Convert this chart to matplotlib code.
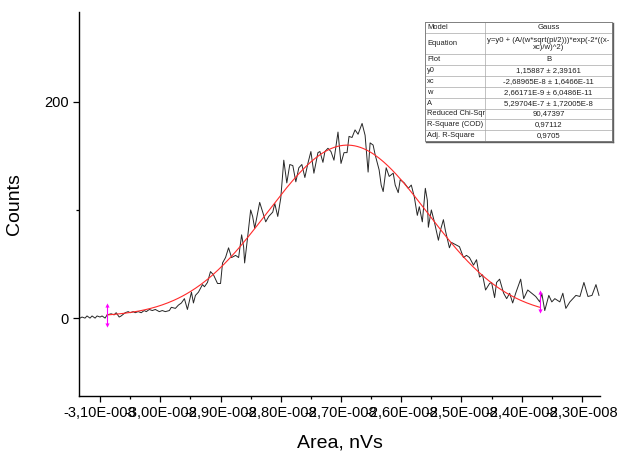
import numpy as np
import matplotlib
matplotlib.use('Agg')
import matplotlib.pyplot as plt
from matplotlib.ticker import FuncFormatter, MultipleLocator

plt.rcParams['font.family'] = ['Liberation Sans', 'DejaVu Sans']

# measured spectrum (x in units of 1e-9 nVs, counts)
area_e9 = [
    -31.333, -31.300, -31.250, -31.217, -31.167, -31.133, -31.083, -31.050, -31.000, -30.967,
    -30.917, -30.883, -30.817, -30.767, -30.733, -30.683, -30.650, -30.583, -30.533, -30.500,
    -30.450, -30.417, -30.367, -30.317, -30.267, -30.233, -30.183, -30.133, -30.083, -30.017,
    -29.967, -29.917, -29.850, -29.817, -29.750, -29.700, -29.650, -29.600, -29.550, -29.483,
    -29.450, -29.417, -29.367, -29.300, -29.267, -29.217, -29.167, -29.117, -29.050, -29.000,
    -28.967, -28.917, -28.867, -28.817, -28.750, -28.700, -28.650, -28.617, -28.600, -28.550,
    -28.500, -28.467, -28.433, -28.350, -28.300, -28.250, -28.200, -28.133, -28.100, -28.050,
    -28.000, -27.950, -27.900, -27.850, -27.800, -27.750, -27.700, -27.650, -27.600, -27.550,
    -27.500, -27.450, -27.383, -27.350, -27.300, -27.267, -27.217, -27.167, -27.117, -27.050,
    -27.000, -26.950, -26.900, -26.867, -26.817, -26.767, -26.717, -26.650, -26.600, -26.550,
    -26.517, -26.467, -26.433, -26.367, -26.333, -26.300, -26.250, -26.200, -26.133, -26.100,
    -26.050, -26.017, -25.950, -25.883, -25.833, -25.783, -25.733, -25.700, -25.650, -25.617,
    -25.600, -25.567, -25.550, -25.500, -25.450, -25.383, -25.350, -25.300, -25.267, -25.200,
    -25.167, -25.100, -25.033, -24.967, -24.917, -24.867, -24.800, -24.750, -24.700, -24.650,
    -24.600, -24.533, -24.500, -24.450, -24.417, -24.367, -24.300, -24.250, -24.200, -24.150,
    -24.100, -24.017, -23.967, -23.900, -23.833, -23.767, -23.700, -23.667, -23.617, -23.550,
    -23.500, -23.450, -23.367, -23.317, -23.267, -23.200, -23.150, -23.100, -23.033, -22.967,
    -22.900, -22.833, -22.767, -22.717,
]
counts = [
    0, 1, 0, 2, 0, 2, 0, 2, 1, 2,
    0, 3, 4, 3, 5, 1, 2, 5, 6, 5,
    6, 5, 6, 5, 7, 6, 8, 7, 8, 6,
    7, 6, 7, 10, 9, 12, 14, 18, 8, 24,
    14, 21, 24, 31, 29, 33, 43, 40, 32, 32,
    51, 56, 65, 56, 58, 56, 77, 66, 51, 75,
    100, 94, 83, 107, 98, 89, 94, 98, 106, 94,
    111, 146, 125, 142, 141, 126, 139, 142, 130, 143,
    154, 134, 153, 154, 144, 154, 157, 154, 146, 172,
    143, 153, 153, 168, 167, 174, 170, 180, 169, 135,
    162, 160, 151, 137, 123, 117, 139, 131, 134, 123,
    116, 128, 125, 120, 123, 112, 95, 103, 89, 109,
    120, 109, 84, 100, 89, 72, 81, 91, 81, 65,
    70, 68, 66, 56, 58, 56, 49, 54, 38, 40,
    26, 32, 33, 19, 33, 36, 23, 18, 23, 14,
    23, 36, 18, 26, 23, 20, 15, 23, 7, 21,
    15, 18, 15, 23, 9, 15, 18, 21, 20, 33,
    20, 21, 31, 21,
]

# Gauss fit parameters (from the report table)
y0 = 1.15887
xc = -2.68965e-8
w = 2.66171e-9
A = 5.29704e-7
fit_range = (-3.0883e-8, -2.3700e-8)

table_labels = ['Model', 'Equation', 'Plot', 'y0', 'xc', 'w', 'A',
                'Reduced Chi-Sqr', 'R-Square (COD)', 'Adj. R-Square']
table_values = ['Gauss', 'y=y0 + (A/(w*sqrt(pi/2)))*exp(-2*((x-\nxc)/w)^2)', 'B',
                '1,15887 \u00b1 2,39161', '-2,68965E-8 \u00b1 1,6466E-11',
                '2,66171E-9 \u00b1 6,0486E-11', '5,29704E-7 \u00b1 1,72005E-8',
                '90,47397', '0,97112', '0,9705']


def gauss(x):
    return y0 + A / (w * np.sqrt(np.pi / 2)) * np.exp(-2 * ((x - xc) / w) ** 2)


def origin_sci(v, pos):
    # Origin-style labels: -3,10E-008
    if abs(v) < 1e-20:
        return '0'
    e = int(np.floor(np.log10(abs(v)) + 1e-9))
    m = v / 10 ** e
    return (f"{m:.2f}E{'-' if e < 0 else '+'}{abs(e):03d}").replace('.', ',')


fig = plt.figure(figsize=(6.2, 4.55), dpi=100)
W, H = 620, 455
ax = fig.add_axes([79 / W, 1 - 396 / H, 521 / W, 384 / H])

x = np.array(area_e9) * 1e-9
ax.plot(x, counts, color='#262626', lw=0.7)

xf = np.linspace(fit_range[0], fit_range[1], 300)
ax.plot(xf, gauss(xf), color='#ff2a2a', lw=0.8)

# range markers at both ends of the fit
for xm, lo, hi in [(fit_range[0], -9, 9), (fit_range[1], -3, 14)]:
    yc = gauss(xm)
    ax.plot([xm, xm], [yc + lo, yc + hi], color='#ff00ff', lw=0.8)
    ax.plot([xm], [yc + hi], marker='^', color='#ff00ff', ms=3, mew=0)
    ax.plot([xm], [yc + lo], marker='v', color='#ff00ff', ms=3, mew=0)

ax.set_xlim(-31.35e-9, -22.70e-9)
ax.set_ylim(-72, 283)
ax.xaxis.set_major_locator(MultipleLocator(1e-9))
ax.xaxis.set_minor_locator(MultipleLocator(0.5e-9))
ax.xaxis.set_major_formatter(FuncFormatter(origin_sci))
ax.yaxis.set_major_locator(MultipleLocator(200))
ax.yaxis.set_minor_locator(MultipleLocator(100))

for side in ['top', 'right']:
    ax.spines[side].set_visible(False)
for side in ['left', 'bottom']:
    ax.spines[side].set_linewidth(1.0)
ax.tick_params(which='major', direction='out', length=4.3, width=0.9, labelsize=10.5, pad=3)
ax.tick_params(which='minor', direction='out', length=2.4, width=0.9)

ax.set_xlabel('Area, nVs', fontsize=14, labelpad=10)
ax.set_ylabel('Counts', fontsize=14, labelpad=15)

# report table
tx0, ty0, tw, th = 425, 22, 187, 119
tab = fig.add_axes([tx0 / W, 1 - (ty0 + th) / H, tw / W, th / H])
tab.set_xlim(0, tw)
tab.set_ylim(11, 0)
tab.axis('off')
split = 60
units = [1, 2, 1, 1, 1, 1, 1, 1, 1, 1]
tab.add_patch(plt.Rectangle((0, 0), tw, 11, facecolor='white', edgecolor='none'))
yy = 0
for lab, val, u in zip(table_labels, table_values, units):
    mid = yy + u / 2
    tab.text(2, mid, lab, fontsize=5.4, ha='left', va='center', color='#202020')
    tab.text((split + tw) / 2, mid, val, fontsize=5.6, ha='center', va='center',
             color='#202020', linespacing=0.95)
    yy += u
    if yy < 11:
        tab.plot([0, tw], [yy, yy], color='#a8a8a8', lw=0.5)
tab.plot([split, split], [0, 11], color='#a8a8a8', lw=0.5)
tab.plot([0, tw, tw, 0, 0], [0, 0, 11, 11, 0], color='#808080', lw=0.7, clip_on=False)
tab.plot([tw + 1, tw + 1], [0.1, 11.1], color='#606060', lw=1.0, clip_on=False)
tab.plot([1, tw + 1], [11.1, 11.1], color='#606060', lw=1.0, clip_on=False)

fig.savefig('out.png', dpi=100)
